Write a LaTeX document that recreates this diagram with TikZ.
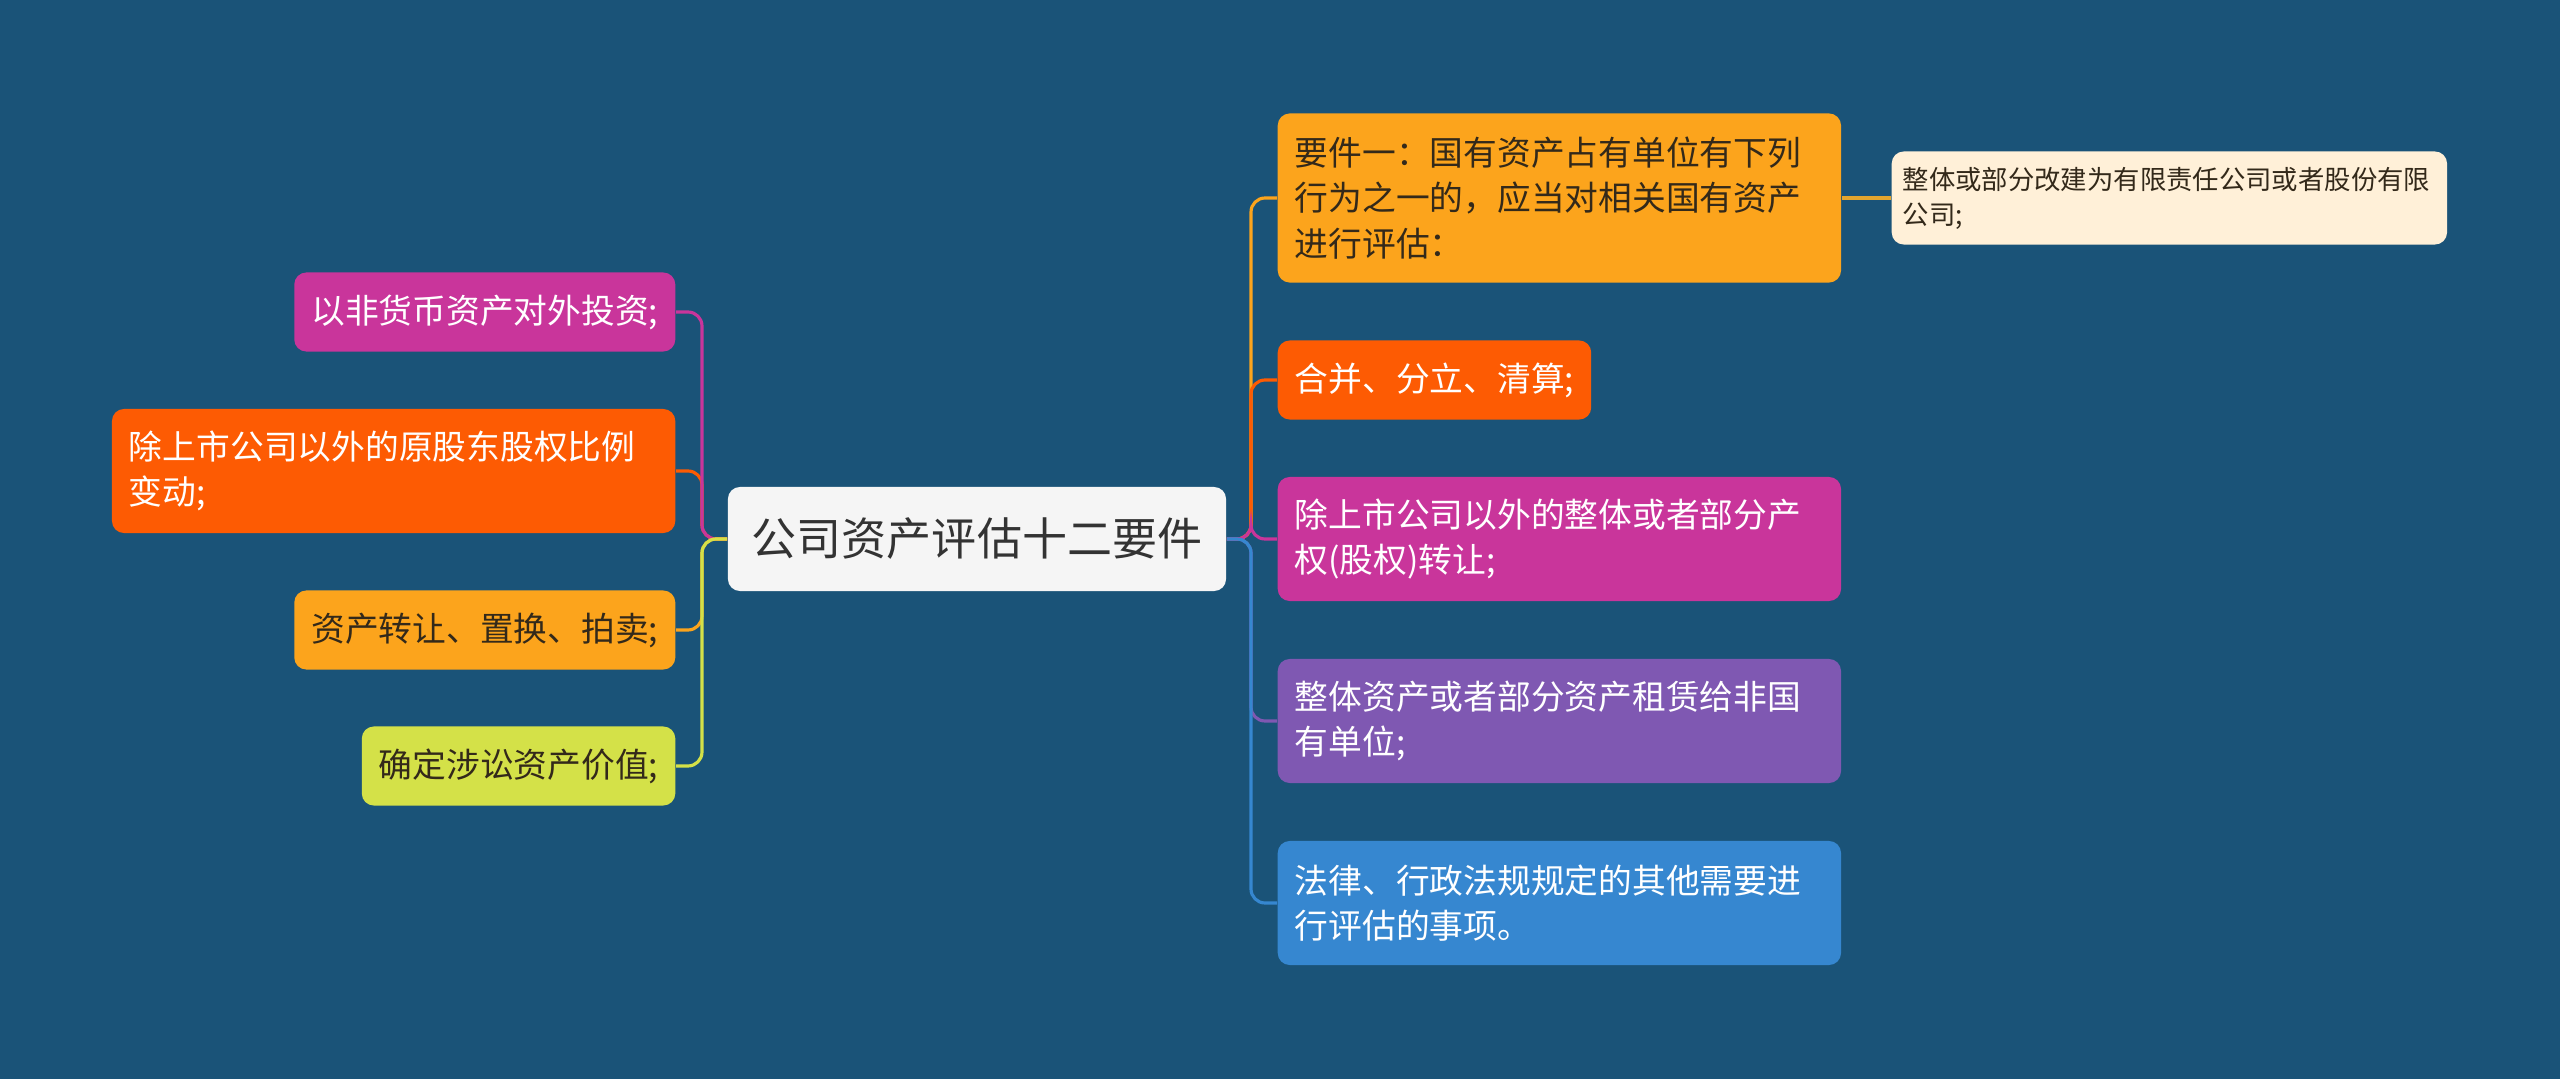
\documentclass[tikz,border=0pt]{standalone}
\usepackage{fontspec}
\setmainfont{Noto Sans CJK SC}
\definecolor{bgblue}{HTML}{1A5378}
\definecolor{cmag}{HTML}{C9359B}
\definecolor{cred}{HTML}{FD5B03}
\definecolor{corange}{HTML}{FCA41C}
\definecolor{clime}{HTML}{D4E148}
\definecolor{cpurple}{HTML}{7F58B2}
\definecolor{cblue}{HTML}{3687D0}
\definecolor{csub}{HTML}{FFF0D8}
\definecolor{darktext}{HTML}{33291A}
\definecolor{subline}{HTML}{E3A52E}

\begin{document}
\begin{tikzpicture}[x=0.01cm, y=-0.01cm,
  box/.style={rounded corners=0.12cm, inner xsep=0.17cm, inner ysep=0.05cm, align=left, text=white, font=\fontsize{9.6pt}{13pt}\selectfont},
  one/.style={box, minimum height=0.79cm},
  two/.style={box, minimum height=1.24cm, text width=5.29cm},
  three/.style={box, minimum height=1.69cm, text width=5.29cm},
  link/.style={line width=0.9pt, rounded corners=0.14cm}]
\fill[bgblue] (0,0) rectangle (2560,1079);
\useasboundingbox (0,0) rectangle (2560,1079);

\node[rounded corners=0.12cm, fill=black!4, text=black!80, inner xsep=0.24cm, minimum height=1.04cm, font=\fontsize{12.8pt}{16pt}\selectfont] (root) at (977,539) {公司资产评估十二要件};
\coordinate (lt) at (702,539);
\coordinate (rt) at (1251,539);

% left side
\node[one, fill=cmag, anchor=east] (n1) at (676,312) {以非货币资产对外投资;};
\node[two, fill=cred, anchor=east] (n2) at (676,471) {除上市公司以外的原股东股权比例\\变动;};
\node[one, fill=corange, text=darktext, anchor=east] (n3) at (676,630) {资产转让、置换、拍卖;};
\node[one, fill=clime, text=darktext, anchor=east] (n4) at (676,766) {确定涉讼资产价值;};

% right side
\node[three, fill=corange, text=darktext, anchor=west] (r1) at (1277,198) {要件一：国有资产占有单位有下列\\行为之一的，应当对相关国有资产\\进行评估：};
\node[one, fill=cred, anchor=west] (r2) at (1277,380) {合并、分立、清算;};
\node[two, fill=cmag, anchor=west] (r3) at (1277,539) {除上市公司以外的整体或者部分产\\权(股权)转让;};
\node[two, fill=cpurple, anchor=west] (r4) at (1277,721) {整体资产或者部分资产租赁给非国\\有单位;};
\node[two, fill=cblue, anchor=west] (r5) at (1277,903) {法律、行政法规规定的其他需要进\\行评估的事项。};
\node[rounded corners=0.12cm, fill=csub, text=darktext, anchor=west, align=left, inner xsep=0.11cm, minimum height=0.93cm, text width=5.33cm, font=\fontsize{7.5pt}{10pt}\selectfont] (s1) at (1891,198) {整体或部分改建为有限责任公司或者股份有限\\公司;};

\draw[link, cred] (root.west) -- (lt) |- (n2.east);
\draw[link, cmag] (root.west) -- (lt) |- (n1.east);
\draw[link, corange] (root.west) -- (lt) |- (n3.east);
\draw[link, clime] (root.west) -- (lt) |- (n4.east);

\draw[link, corange] (root.east) -- (rt) |- (r1.west);
\draw[link, cred] (root.east) -- (rt) |- (r2.west);
\draw[link, cmag] (root.east) -- (rt) |- (r3.west);
\draw[link, cpurple] (root.east) -- (rt) |- (r4.west);
\draw[link, cblue] (root.east) -- (rt) |- (r5.west);
\draw[link, subline] (r1.east) -- (s1.west);
\end{tikzpicture}
\end{document}
